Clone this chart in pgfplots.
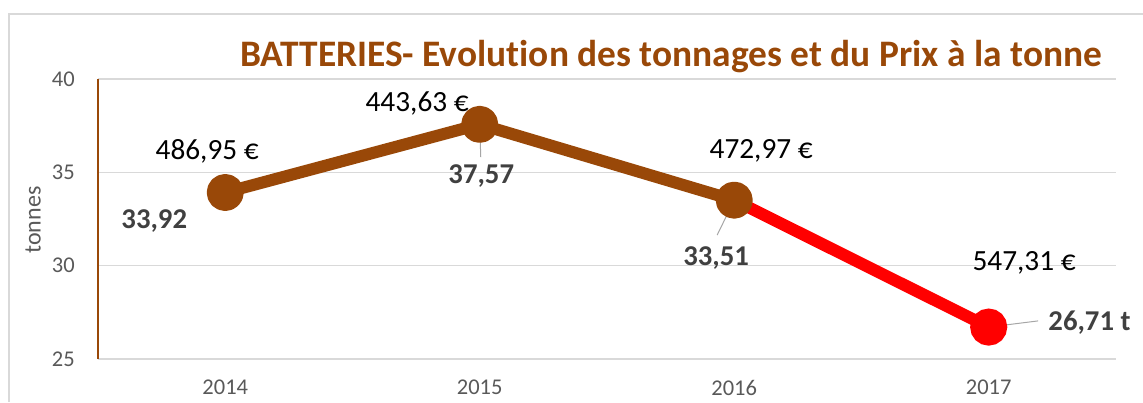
\documentclass[border=0pt]{standalone}
\usepackage{fontspec}
\setmainfont{Carlito}[Ligatures={NoCommon}]
\usepackage{pgfplots}
\pgfplotsset{compat=1.18}
\definecolor{brownc}{RGB}{153,72,8}
\definecolor{gridc}{RGB}{217,217,217}
\definecolor{tickc}{RGB}{89,89,89}
\definecolor{lblc}{RGB}{64,64,64}
\definecolor{leadc}{RGB}{166,166,166}
\begin{document}
\begin{tikzpicture}[x=1pt,y=1pt]
\useasboundingbox (0,0) rectangle (1143,402);
\draw[gridc, line width=1.6pt] (9,0) -- (9,388) -- (1143,388);
\node[font=\bfseries\fontsize{37.4}{44}\selectfont, text=brownc] at (671,345) {BATTERIES- Evolution des tonnages et du Prix à la tonne};
\node[rotate=90, font=\fontsize{24}{28}\selectfont, text=tickc] at (33,182) {tonnes};
\begin{axis}[
  at={(98pt,43pt)}, anchor=south west,
  scale only axis, width=1018pt, height=280pt,
  xmin=-0.5, xmax=3.5, ymin=25, ymax=40,
  xtick={0,1,2,3}, xticklabels={2014,2015,2016,2017},
  ytick={25,30,35,40},
  ymajorgrids, grid style={gridc, line width=1.6pt},
  axis line style={draw=none},
  major tick length=0pt,
  tick label style={font=\fontsize{22.5}{26}\selectfont, text=tickc},
  /pgf/number format/assume math mode=true,
  yticklabel style={inner sep=0pt, anchor=east, xshift=-23pt},
  xticklabel style={inner sep=0pt, anchor=north, yshift=-21pt},
  clip=false,
]
\draw[brownc, line width=1.5pt] (axis cs:-0.5,25) -- (axis cs:-0.5,40);
\addplot[red, line width=12pt, mark=*, mark indices={2}, mark size=12.5pt, mark options={fill=red, draw=none}] coordinates {(2,33.51)(3,26.71)};
\addplot[brownc, line width=12pt, line join=round, mark=*, mark size=12.5pt, mark options={fill=brownc, draw=none}] coordinates {(0,33.92)(1,37.57)(2,33.51)};
\draw[leadc, line width=1pt] (axis cs:1,37.57) -- (axis cs:1.004,35.82);
\draw[leadc, line width=1pt] (axis cs:2,33.51) -- (axis cs:1.933,31.64);
\draw[leadc, line width=1pt] (axis cs:3,26.71) -- (axis cs:3.194,27.04);
\begin{scope}[every node/.style={font=\fontsize{29.3}{34}\selectfont, text=black}]
\node at (axis cs:-0.071,36.14) {486,95 €};
\node at (axis cs:0.754,38.71) {443,63 €};
\node at (axis cs:2.106,36.14) {472,97 €};
\node at (axis cs:3.139,30.14) {547,31 €};
\end{scope}
\begin{scope}[every node/.style={font=\bfseries\fontsize{28.7}{34}\selectfont, text=lblc}]
\node at (axis cs:-0.279,32.39) {33,92};
\node at (axis cs:1.006,34.80) {37,57};
\node at (axis cs:1.929,30.41) {33,51};
\node[anchor=west, inner sep=0pt] at (axis cs:3.234,26.93) {26,71 t};
\end{scope}
\end{axis}
\end{tikzpicture}
\end{document}
